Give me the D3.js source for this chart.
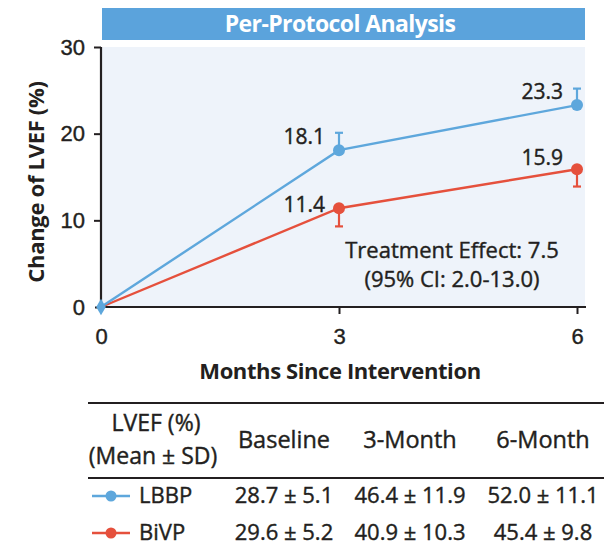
<!DOCTYPE html>
<html>
<head>
<meta charset="utf-8">
<script src="https://cdn.jsdelivr.net/npm/d3@7"></script>
<style>
  body { margin: 0; background: #fff; }
  svg { display: block; font-family: "Open Sans", "Noto Sans", sans-serif; }
  text.med { stroke: #231f20; stroke-width: 0.4px; }
</style>
</head>
<body>
<svg width="604" height="552"></svg>
<script>
// data
var months = [0, 3, 6];
var xTicks = [0, 3, 6];
var yTicks = [0, 10, 20, 30];
var lbbpChange = [0, 18.1, 23.3];
var bivpChange = [0, 11.4, 15.9];
var lbbpErr = [0, 2.0, 1.9];   // drawn upward
var bivpErr = [0, 2.1, 2.0];   // drawn downward
var tableCols = ["Baseline", "3-Month", "6-Month"];
var lbbpRow = ["28.7 ± 5.1", "46.4 ± 11.9", "52.0 ± 11.1"];
var bivpRow = ["29.6 ± 5.2", "40.9 ± 10.3", "45.4 ± 9.8"];

var blue = "#5ea7dc";
var red = "#e5503c";
var ink = "#231f20";

var svg = d3.select("svg");

// x/y scales
var x = d3.scaleLinear().domain([0, 6]).range([101, 577]);
var y = d3.scaleLinear().domain([0, 30]).range([307, 47]);

// title bar
svg.append("rect").attr("x", 102).attr("y", 8).attr("width", 483).attr("height", 32).attr("fill", "#5ba3dc");
svg.append("text").attr("x", 340).attr("y", 32).attr("text-anchor", "middle")
  .attr("fill", "#fff").style("font-weight", "bold").style("font-size", "23px")
  .style("letter-spacing", "-0.6px")
  .text("Per-Protocol Analysis");

// plot background
svg.append("rect").attr("x", 101).attr("y", 47).attr("width", 484).attr("height", 260).attr("fill", "#eef3fa");

// axes
var yAxis = svg.append("g").attr("transform", "translate(101,0)")
  .call(d3.axisLeft(y).tickValues(yTicks).tickSize(7).tickPadding(9));
var xAxis = svg.append("g").attr("transform", "translate(0,307)")
  .call(d3.axisBottom(x).tickValues(xTicks).tickFormat(d3.format("d")).tickSize(7).tickPadding(14));

[yAxis, xAxis].forEach(function(ax) {
  ax.select(".domain").remove();
  ax.selectAll("line").attr("stroke", ink).attr("stroke-width", 2);
  ax.selectAll("text").attr("class", "med").attr("fill", ink).style("font-size", "22px");
});
xAxis.selectAll(".tick").filter(function(d) { return d === 0; }).select("line").remove();
yAxis.selectAll(".tick").filter(function(d) { return d === 0; }).select("line").attr("x2", -6);

svg.append("line").attr("x1", 101).attr("x2", 101).attr("y1", 47).attr("y2", 308)
  .attr("stroke", ink).attr("stroke-width", 2.2);
svg.append("line").attr("x1", 100).attr("x2", 586).attr("y1", 307).attr("y2", 307)
  .attr("stroke", ink).attr("stroke-width", 2.2);

// axis titles
svg.append("text").attr("transform", "translate(44,182) rotate(-90)")
  .attr("text-anchor", "middle").attr("fill", ink)
  .style("font-weight", "bold").style("font-size", "22px").style("letter-spacing", "-0.3px")
  .text("Change of LVEF (%)");
svg.append("text").attr("x", 340).attr("y", 379).attr("text-anchor", "middle").attr("fill", ink)
  .style("font-weight", "bold").style("font-size", "22px").style("letter-spacing", "-0.4px")
  .text("Months Since Intervention");

// series
var line = d3.line().x(function(d, i) { return x(months[i]); }).y(function(d) { return y(d); });

function drawSeries(vals, errs, dir, color) {
  var g = svg.append("g");
  g.append("path").datum(vals).attr("d", line).attr("fill", "none")
    .attr("stroke", color).attr("stroke-width", 2.4);
  vals.forEach(function(v, i) {
    if (i === 0) return;
    var yEnd = y(v + dir * errs[i]);
    g.append("line").attr("x1", x(months[i])).attr("x2", x(months[i]))
      .attr("y1", y(v)).attr("y2", yEnd).attr("stroke", color).attr("stroke-width", 2.2);
    g.append("line").attr("x1", x(months[i]) - 4).attr("x2", x(months[i]) + 4)
      .attr("y1", yEnd).attr("y2", yEnd).attr("stroke", color).attr("stroke-width", 2.2);
  });
  g.selectAll("circle").data(vals.slice(1)).enter().append("circle")
    .attr("cx", function(d, i) { return x(months[i + 1]); })
    .attr("cy", function(d) { return y(d); })
    .attr("r", 6).attr("fill", color);
}
drawSeries(bivpChange, bivpErr, -1, red);
drawSeries(lbbpChange, lbbpErr, 1, blue);

// shared origin marker
svg.append("path").attr("d", d3.symbol(d3.symbolDiamond, 80)())
  .attr("transform", "translate(" + x(0) + "," + y(0) + ")").attr("fill", blue);

// value labels
function valueLabels(vals, dy) {
  svg.selectAll(null).data(vals.slice(1)).enter().append("text")
    .attr("class", "med")
    .attr("x", function(d, i) { return x(months[i + 1]) - 14; })
    .attr("y", function(d, i) { return y(d) + dy[i]; })
    .attr("text-anchor", "end").attr("fill", ink).style("font-size", "21px")
    .text(function(d) { return d.toFixed(1); });
}
valueLabels(lbbpChange, [-6, -6]);
valueLabels(bivpChange, [4, -4]);

// treatment effect
svg.append("text").attr("class", "med").attr("x", 452).attr("y", 258).attr("text-anchor", "middle").attr("fill", ink)
  .style("font-size", "22px").text("Treatment Effect: 7.5");
svg.append("text").attr("class", "med").attr("x", 452).attr("y", 287).attr("text-anchor", "middle").attr("fill", ink)
  .style("font-size", "22px").text("(95% CI: 2.0-13.0)");

// table
var colX = [284, 410, 543];
svg.append("line").attr("x1", 88).attr("x2", 604).attr("y1", 403).attr("y2", 403)
  .attr("stroke", ink).attr("stroke-width", 2.2);
svg.append("line").attr("x1", 88).attr("x2", 604).attr("y1", 478).attr("y2", 478)
  .attr("stroke", ink).attr("stroke-width", 2.2);

svg.append("text").attr("class", "med").attr("x", 156).attr("y", 431).attr("text-anchor", "middle").attr("fill", ink)
  .style("font-size", "23px").text("LVEF (%)");
svg.append("text").attr("class", "med").attr("x", 153).attr("y", 464).attr("text-anchor", "middle").attr("fill", ink)
  .style("font-size", "23px").text("(Mean ± SD)");
svg.selectAll(null).data(tableCols).enter().append("text")
  .attr("class", "med")
  .attr("x", function(d, i) { return colX[i]; }).attr("y", 448)
  .attr("text-anchor", "middle").attr("fill", ink).style("font-size", "23.5px")
  .text(function(d) { return d; });

var rows = [
  { name: "LBBP", vals: lbbpRow, color: blue, y: 503 },
  { name: "BiVP", vals: bivpRow, color: red, y: 540 }
];
rows.forEach(function(r) {
  svg.append("line").attr("x1", 92).attr("x2", 130).attr("y1", r.y - 7).attr("y2", r.y - 7)
    .attr("stroke", r.color).attr("stroke-width", 2.4);
  svg.append("circle").attr("cx", 111).attr("cy", r.y - 7).attr("r", 5.5).attr("fill", r.color);
  svg.append("text").attr("class", "med").attr("x", 139).attr("y", r.y).attr("fill", ink)
    .style("font-size", "22px").text(r.name);
  svg.selectAll(null).data(r.vals).enter().append("text")
    .attr("class", "med")
    .attr("x", function(d, i) { return colX[i]; }).attr("y", r.y)
    .attr("text-anchor", "middle").attr("fill", ink).style("font-size", "22px")
    .text(function(d) { return d; });
});
</script>
</body>
</html>
